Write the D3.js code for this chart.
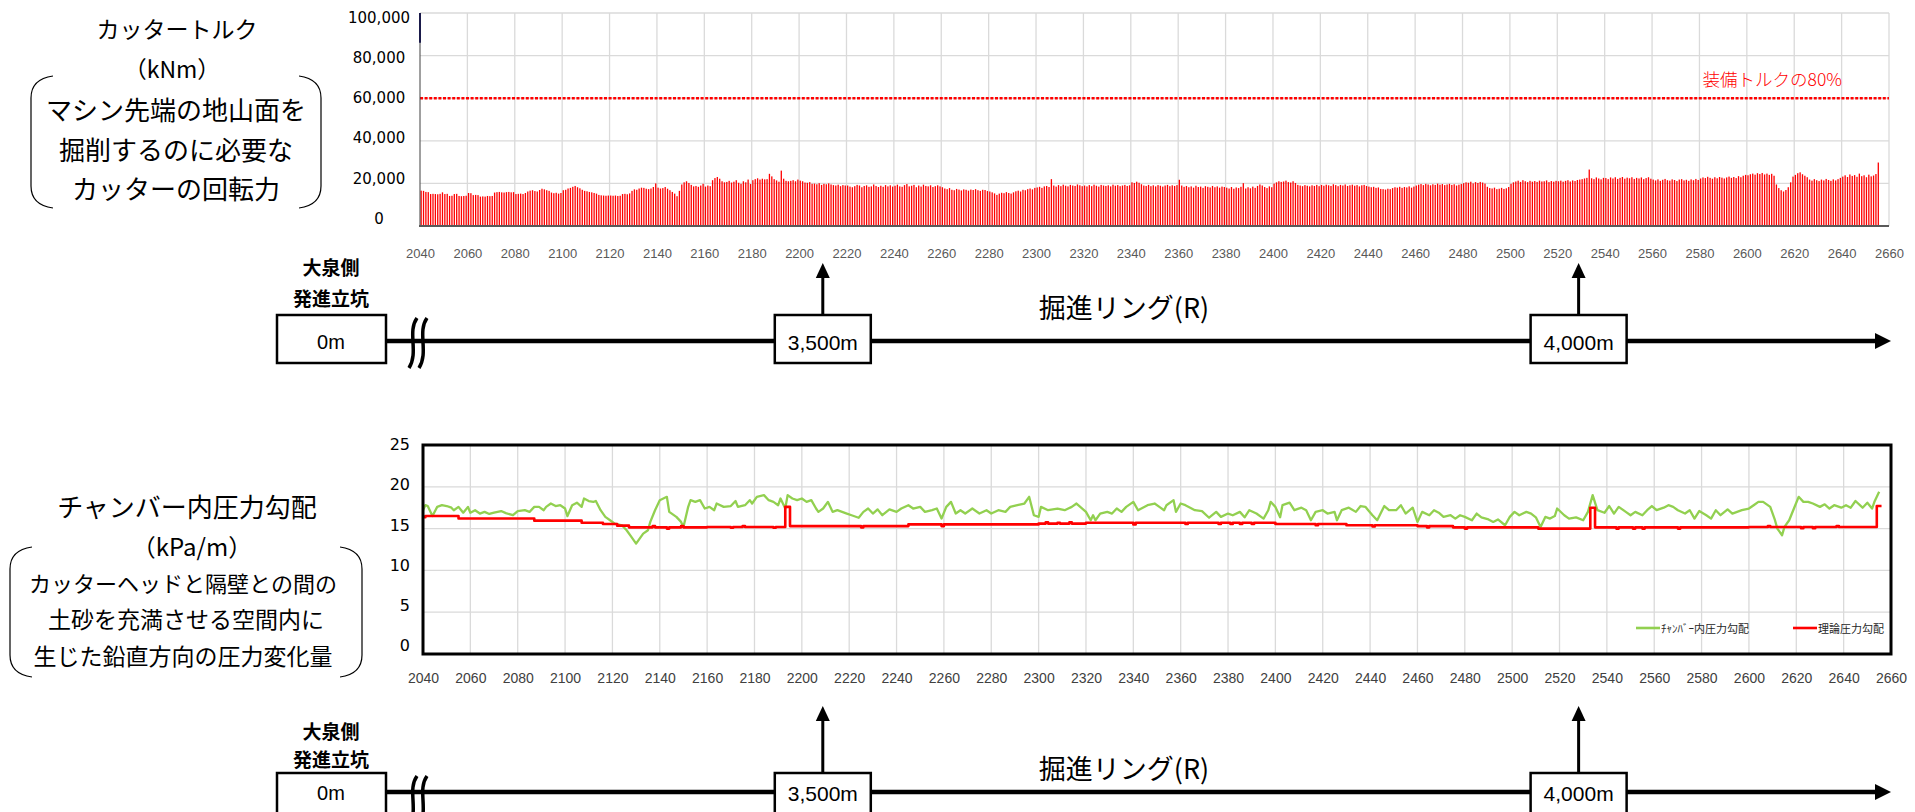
<!DOCTYPE html>
<html lang="ja">
<head>
<meta charset="utf-8">
<title>カッタートルク・チャンバー内圧力勾配</title>
<script src="https://cdn.jsdelivr.net/npm/d3@7"></script>
<style>
  html, body { margin: 0; padding: 0; background: #fff; }
  svg { display: block; }
  .jp { font-family: "Noto Sans CJK JP", "Noto Sans", sans-serif; fill: #000; }
  .num { font-family: "DejaVu Sans", Verdana, sans-serif; fill: #000; }
  .ring { font-family: "Liberation Sans Narrow", "Arial Narrow", "Liberation Sans", sans-serif; }
  .lat { font-family: "Liberation Sans", Arial, sans-serif; fill: #000; }
</style>
</head>
<body>
<svg id="chart" width="1915" height="812"></svg>
<script>
// cutter torque (kNm), one bar per ring from ring 2040
const torqueStart = 2040;
const torqueValues = [
  16600,16500,16000,15900,15000,15100,15000,14900,15100,15800,15000,15100,14100,14200,15000,15100,14100,14000,14100,14200,
  15500,15400,14500,14600,14500,13800,13900,13800,14100,14000,14100,15700,15900,16000,15800,15700,15900,16000,15800,15900,
  15000,15100,15200,15000,15500,16200,16600,16800,16400,16200,16900,17500,17200,16800,16500,15700,15400,15600,15200,15500,
  16800,17000,17600,17900,18400,18800,18200,17700,17000,16500,16300,16000,15800,15500,15200,14600,14400,14300,14200,14300,
  14300,14200,14300,14100,14200,15000,15100,14900,15300,16500,17200,17000,17600,18000,17900,17500,17300,17600,18300,20000,
  18000,17600,17800,18300,17500,16800,16000,15200,14000,16500,19500,20500,21000,20200,19300,18600,18800,18400,19000,19800,
  18500,19000,18700,21500,22500,23000,22200,21000,20500,20700,21200,20400,20800,21500,20300,19800,21000,20500,21800,19700,
  21500,22000,22400,21800,22200,21900,22000,24500,23300,22000,21400,20800,26000,22200,21200,21000,21200,21500,21000,21800,
  21300,21000,20400,20300,20600,19800,19900,19600,20100,19300,19800,19600,20000,19500,19200,19000,19400,18700,19200,19000,
  19000,18500,18200,18700,19300,19000,18200,18800,19100,18400,18600,19500,18800,18300,18900,18400,19200,18600,19100,18500,
  18900,19400,18600,18400,19200,19700,18600,18900,19300,18200,19000,18500,19400,18800,18600,19100,18300,18700,19100,18600,
  18200,17600,17300,17800,17000,16800,17400,17100,16700,17200,17000,16600,17100,16900,17300,16800,16500,17000,16900,16400,
  16200,15800,15300,14600,15200,15600,15400,15900,15500,15200,15800,16300,16600,16200,17000,16800,17300,17600,17200,17900,
  18100,18400,17900,18600,18800,18300,22000,19000,18500,19200,18700,19400,18900,18600,19300,19000,18800,19500,19100,18700,
  19000,18600,19200,18700,19400,18900,18500,19300,19000,18800,19100,18600,19400,18900,19200,18700,19000,19300,18800,19100,
  20500,20200,20800,20300,19600,19000,18800,19300,18700,19100,18600,19200,18900,18500,19000,19300,18700,19100,18800,19200,
  21700,19000,18400,18800,18200,18600,18000,18900,18300,18500,17900,18700,18400,18100,18800,18200,18600,18000,18500,18300,
  18000,17600,18300,17500,18100,17800,18400,20100,17600,18200,17700,18500,17900,18800,19500,19000,18300,17800,18600,18200,
  19900,20500,21000,20700,20900,21300,20600,20400,21000,20200,19300,19000,18700,19200,18900,18600,19100,18800,19300,18700,
  19300,18900,19400,19100,18800,19600,19200,18700,19300,19000,19500,18800,19100,19400,18900,19200,18600,19100,19300,18800,
  18500,18200,18400,17900,18100,17400,17300,17100,17500,17300,17800,18200,18000,18400,17900,18300,18100,18600,18000,18500,
  19000,19400,19700,19200,19800,19500,19100,19600,19300,19900,19400,19700,19200,19500,19800,19300,19600,19000,19400,19700,
  20100,20500,20300,20800,20000,20600,20200,20700,20400,19900,18400,17800,17600,18000,17300,17500,17900,17400,17700,18300,
  19800,20500,20900,21300,20700,21500,21000,20600,21200,20800,21100,20700,21300,20900,21000,21400,20600,21100,20800,21200,
  21000,21300,20800,21200,21500,20900,21400,21100,21600,21800,22000,22300,22600,26500,22400,22000,22800,22300,21900,22600,
  22500,22000,22800,22300,22900,22100,22600,23000,22200,22700,22400,22900,22100,22600,22300,22800,22000,22500,22900,22200,
  21800,21400,21900,21200,21700,22100,21500,21300,21900,21600,21100,21800,22000,21400,21700,21200,21900,21500,22100,21600,
  22300,22800,22500,23100,22600,22200,22900,22400,23000,22700,22300,22800,23200,22600,23000,22500,23400,22900,23600,24000,
  23800,24300,24600,24100,24800,24400,24900,24200,24600,24000,24500,23600,19500,17800,16800,16200,16900,18200,20500,23200,
  24000,24800,25200,24300,23600,22900,21800,21300,22000,21500,21100,21800,21400,22100,21600,21200,21900,21400,22000,22600,
  23200,23800,23000,24200,23500,23900,23100,24600,23400,23800,22900,24100,23300,23700,24400,29800
];
const torqueTicks = [0, 20000, 40000, 60000, 80000, 100000];
const torqueLimit = 60000;
const torqueLimitLabel = "装備トルクの80%";

const ringTicks = [2040, 2060, 2080, 2100, 2120, 2140, 2160, 2180, 2200, 2220, 2240, 2260, 2280, 2300, 2320, 2340,
  2360, 2380, 2400, 2420, 2440, 2460, 2480, 2500, 2520, 2540, 2560, 2580, 2600, 2620, 2640, 2660];

// chamber pressure gradient (kPa/m), [ring, value]
const chamberPoints = [
  [2040,17.2],[2041,17.8],[2042,17.7],[2044,16.5],[2046,17.6],[2048,17.8],[2050,17.7],[2052,17.5],[2053,17.2],[2055,17.6],
  [2057,16.9],[2059,17.6],[2060,16.9],[2062,17.2],[2064,16.8],[2066,17.0],[2068,16.75],[2070,16.9],[2073,17.1],[2075,16.85],
  [2078,16.6],[2080,17.1],[2083,17.2],[2085,17.0],[2087,17.6],[2089,17.6],[2091,17.2],[2092,17.6],[2094,18.0],[2096,17.7],
  [2098,17.8],[2100,17.4],[2101,16.5],[2103,17.8],[2105,18.1],[2107,17.6],[2108,18.6],[2110,18.3],[2112,18.2],[2113,18.3],
  [2115,17.2],[2117,16.4],[2119,16.0],[2121,15.6],[2124,15.4],[2126,14.8],[2128,14.0],[2130,13.2],[2133,14.4],[2135,14.8],
  [2136,15.8],[2138,17.2],[2140,18.4],[2143,18.8],[2144,17.0],[2147,16.4],[2149,15.8],[2150,15.2],[2152,17.6],[2153,18.4],
  [2155,18.2],[2157,18.4],[2159,17.4],[2161,17.6],[2163,17.2],[2164,18.0],[2167,17.6],[2170,17.7],[2172,18.3],[2173,17.6],
  [2176,17.8],[2178,18.4],[2179,18.0],[2181,18.8],[2184,19.0],[2186,18.4],[2188,18.2],[2190,17.8],[2191,18.6],[2193,17.4],
  [2194,19.0],[2196,18.6],[2198,18.4],[2200,18.6],[2202,18.2],[2204,18.4],[2206,17.4],[2207,17.0],[2209,17.4],[2211,18.2],
  [2213,17.0],[2215,17.2],[2217,17.0],[2219,16.8],[2221,16.6],[2224,16.3],[2226,17.0],[2228,17.4],[2230,16.8],[2232,17.3],
  [2234,16.6],[2237,17.3],[2240,17.0],[2242,17.4],[2245,17.8],[2247,17.4],[2250,17.6],[2252,17.0],[2255,17.2],[2257,17.4],
  [2259,16.2],[2261,17.6],[2263,18.2],[2265,16.8],[2267,17.2],[2269,16.8],[2272,17.4],[2275,16.8],[2278,17.2],[2280,16.8],
  [2283,17.2],[2286,17.0],[2288,17.6],[2291,17.8],[2294,18.0],[2296,18.8],[2298,16.6],[2300,16.4],[2301,17.6],[2304,17.2],
  [2308,17.4],[2311,17.2],[2314,17.6],[2316,18.0],[2320,17.0],[2322,16.0],[2323,16.6],[2324,16.0],[2326,16.8],[2329,17.0],
  [2331,16.8],[2333,17.4],[2335,17.0],[2337,17.6],[2340,18.2],[2342,17.2],[2344,17.5],[2346,17.8],[2349,18.0],[2351,17.6],
  [2353,17.2],[2354,17.8],[2357,18.4],[2358,17.0],[2360,18.0],[2362,17.8],[2366,17.2],[2369,17.1],[2372,16.3],[2375,17.0],
  [2377,16.4],[2380,16.8],[2382,16.6],[2385,17.0],[2387,16.35],[2389,17.2],[2392,16.8],[2395,16.2],[2397,17.2],[2398,18.2],
  [2400,17.6],[2402,16.35],[2403,17.8],[2406,18.1],[2408,17.2],[2411,17.5],[2413,17.2],[2415,16.0],[2417,17.0],[2420,17.2],
  [2422,16.8],[2425,17.0],[2426,16.0],[2428,17.2],[2431,17.5],[2434,17.0],[2436,17.7],[2438,17.6],[2441,16.6],[2443,16.0],
  [2446,17.7],[2448,17.2],[2451,17.2],[2453,17.8],[2455,16.8],[2458,17.5],[2460,15.8],[2462,17.0],[2465,16.6],[2467,17.2],
  [2469,16.9],[2471,16.4],[2474,16.6],[2476,16.2],[2478,16.6],[2480,16.4],[2483,16.0],[2485,16.8],[2487,16.35],[2490,16.1],
  [2492,15.8],[2494,16.1],[2497,15.4],[2499,16.4],[2501,17.0],[2503,16.6],[2506,17.0],[2508,16.8],[2510,16.35],[2512,15.2],
  [2514,16.4],[2516,16.2],[2518,16.5],[2519,17.4],[2522,16.6],[2524,16.2],[2527,16.35],[2530,16.0],[2532,17.0],[2534,19.0],
  [2536,17.2],[2539,16.9],[2541,17.7],[2543,16.8],[2545,17.6],[2548,17.0],[2550,16.6],[2552,17.0],[2555,16.6],[2557,17.2],
  [2559,17.7],[2561,17.2],[2564,17.5],[2566,17.8],[2568,17.6],[2570,17.2],[2573,16.8],[2575,17.2],[2577,16.2],[2579,17.1],
  [2582,16.6],[2584,16.2],[2586,17.2],[2588,16.6],[2591,17.3],[2593,16.8],[2595,17.0],[2597,17.2],[2600,17.4],[2602,17.8],
  [2604,18.2],[2606,18.2],[2609,17.6],[2611,16.0],[2612,15.0],[2614,14.2],[2615,15.2],[2617,16.0],[2619,17.4],[2621,18.8],
  [2623,18.2],[2625,18.2],[2627,18.0],[2630,17.6],[2632,17.9],[2634,17.4],[2636,17.8],[2639,17.5],[2641,17.8],[2643,17.5],
  [2645,18.3],[2648,17.5],[2650,18.1],[2652,17.4],[2653,18.2],[2655,19.4]
];

// theoretical pressure gradient (kPa/m), value changes [ring, value]
const theoryPoints = [
  [2040,16.35],[2041,16.5],[2055,16.2],[2087,15.95],[2107,15.7],[2116,15.55],[2122,15.35],[2127,15.15],[2137,15.3],[2138,15.15],
  [2143,15.0],[2144,15.15],[2149,15.3],[2150,15.15],[2160,15.2],[2170,15.1],[2171,15.2],[2175,15.3],[2176,15.2],[2188,15.1],
  [2189,15.2],[2193,17.6],[2195,15.3],[2225,15.15],[2226,15.3],[2245,15.5],[2259,15.3],[2260,15.5],[2300,15.6],[2303,15.75],
  [2304,15.6],[2308,15.7],[2309,15.6],[2313,15.75],[2314,15.6],[2320,15.7],[2340,15.5],[2341,15.7],[2362,15.55],[2363,15.7],
  [2376,15.55],[2377,15.7],[2381,15.55],[2382,15.7],[2385,15.55],[2386,15.7],[2390,15.55],[2391,15.7],[2400,15.55],[2417,15.4],
  [2418,15.55],[2430,15.4],[2441,15.25],[2442,15.4],[2460,15.3],[2464,15.15],[2465,15.3],[2475,15.15],[2480,15.0],[2481,15.15],
  [2511,15.0],[2533,17.5],[2535,15.15],[2544,15.0],[2545,15.15],[2551,15.0],[2552,15.15],[2555,15.0],[2556,15.15],[2570,15.0],
  [2571,15.15],[2600,15.2],[2608,15.3],[2609,15.2],[2622,15.05],[2623,15.2],[2627,15.05],[2628,15.2],[2637,15.3],[2638,15.2],
  [2654,17.7],[2656,17.7]
];
const pressureTicks = [0, 5, 10, 15, 20, 25];
const seriesNames = ["ﾁｬﾝﾊﾞｰ内圧力勾配", "理論圧力勾配"];
const seriesColors = ["#92d050", "#ff0000"];

const milestoneLabels = ["3,500m", "4,000m"];
const milestoneRings = [2210, 2529];

var svg = d3.select("#chart");

// ---------- torque bar chart ----------
var xTop = d3.scaleLinear().domain([2040, 2660]).range([420, 1889]);
var yTop = d3.scaleLinear().domain([0, 100000]).range([226, 13]);
var yTopLabel = d3.scaleLinear().domain([0, 100000]).range([218, 17]);

var torqueG = svg.append("g").attr("class", "torque");

torqueG.selectAll("line.hgrid").data(torqueTicks.slice(1))
  .enter().append("line")
    .attr("class", "hgrid")
    .attr("x1", xTop(2040)).attr("x2", xTop(2660))
    .attr("y1", function(d) { return yTop(d); })
    .attr("y2", function(d) { return yTop(d); })
    .attr("stroke", "#dadada").attr("stroke-width", 1.3);

torqueG.selectAll("line.vgrid").data(ringTicks.slice(1))
  .enter().append("line")
    .attr("class", "vgrid")
    .attr("x1", function(d) { return xTop(d); })
    .attr("x2", function(d) { return xTop(d); })
    .attr("y1", yTop(100000)).attr("y2", yTop(0))
    .attr("stroke", "#dadada").attr("stroke-width", 1.3);

torqueG.selectAll("rect.bar").data(torqueValues)
  .enter().append("rect")
    .attr("class", "bar")
    .attr("x", function(d, i) { return xTop(torqueStart + i) + 0.5; })
    .attr("width", 1.3)
    .attr("y", function(d) { return yTop(d); })
    .attr("height", function(d) { return yTop(0) - yTop(d); })
    .attr("fill", "#ff0000");

torqueG.append("line")
    .attr("x1", xTop(2040)).attr("x2", xTop(2660))
    .attr("y1", yTop(torqueLimit)).attr("y2", yTop(torqueLimit))
    .attr("stroke", "#ff0000").attr("stroke-width", 2.5)
    .attr("stroke-dasharray", "3,1.6");

torqueG.append("text")
    .attr("class", "jp")
    .attr("x", 1842).attr("y", yTop(torqueLimit) - 20)
    .attr("text-anchor", "end")
    .attr("dominant-baseline", "central")
    .style("font-size", "17.5px")
    .style("font-weight", "300")
    .style("fill", "#ff0000")
    .text(torqueLimitLabel);

// axes lines
torqueG.append("line")
    .attr("x1", xTop(2040)).attr("x2", xTop(2040))
    .attr("y1", yTop(100000)).attr("y2", yTop(0))
    .attr("stroke", "#404040").attr("stroke-width", 1);
torqueG.append("line")
    .attr("x1", xTop(2040)).attr("x2", xTop(2040))
    .attr("y1", yTop(100000)).attr("y2", yTop(86000))
    .attr("stroke", "#1a1a4a").attr("stroke-width", 2);
torqueG.append("line")
    .attr("x1", xTop(2040) - 1).attr("x2", xTop(2660))
    .attr("y1", yTop(0)).attr("y2", yTop(0))
    .attr("stroke", "#595959").attr("stroke-width", 2);

var topYAxis = torqueG.append("g")
    .attr("transform", "translate(379,0)")
    .call(d3.axisLeft(yTopLabel).tickValues(torqueTicks).tickFormat(d3.format(",")).tickSize(0));
topYAxis.select(".domain").remove();
topYAxis.selectAll("text")
    .attr("class", "num").attr("x", 0).attr("dy", "0.35em")
    .attr("text-anchor", "middle")
    .style("font-size", "15px");

var topXAxis = torqueG.append("g")
    .attr("transform", "translate(0,253)")
    .call(d3.axisBottom(xTop).tickValues(ringTicks).tickFormat(d3.format("d")).tickSize(0));
topXAxis.select(".domain").remove();
topXAxis.selectAll("text")
    .attr("class", "ring").attr("y", 0).attr("dy", "0.35em")
    .style("font-size", "13px").style("fill", "#595959");

// ---------- chamber pressure line chart ----------
var xBot = d3.scaleLinear().domain([2040, 2660]).range([423, 1891]);
var yBot = d3.scaleLinear().domain([0, 25]).range([654, 445]);
var yBotLabel = d3.scaleLinear().domain([0, 25]).range([645, 444]);

var pressG = svg.append("g").attr("class", "pressure");

pressG.selectAll("line.hgrid").data(pressureTicks.slice(1, -1))
  .enter().append("line")
    .attr("class", "hgrid")
    .attr("x1", xBot(2040)).attr("x2", xBot(2660))
    .attr("y1", function(d) { return yBot(d); })
    .attr("y2", function(d) { return yBot(d); })
    .attr("stroke", "#dadada").attr("stroke-width", 1.3);

pressG.selectAll("line.vgrid").data(ringTicks.slice(1, -1))
  .enter().append("line")
    .attr("class", "vgrid")
    .attr("x1", function(d) { return xBot(d); })
    .attr("x2", function(d) { return xBot(d); })
    .attr("y1", yBot(25)).attr("y2", yBot(0))
    .attr("stroke", "#dadada").attr("stroke-width", 1.3);

var chamberLine = d3.line()
    .x(function(d) { return xBot(d[0]); })
    .y(function(d) { return yBot(d[1]); });
var theoryLine = d3.line()
    .curve(d3.curveStepAfter)
    .x(function(d) { return xBot(d[0]); })
    .y(function(d) { return yBot(d[1]); });

pressG.append("path")
    .datum(chamberPoints)
    .attr("d", chamberLine)
    .attr("fill", "none")
    .attr("stroke", seriesColors[0])
    .attr("stroke-width", 2.3)
    .attr("stroke-linejoin", "round");

pressG.append("path")
    .datum(theoryPoints)
    .attr("d", theoryLine)
    .attr("fill", "none")
    .attr("stroke", seriesColors[1])
    .attr("stroke-width", 2.6)
    .attr("stroke-linejoin", "round");

pressG.append("rect")
    .attr("x", xBot(2040)).attr("y", yBot(25))
    .attr("width", xBot(2660) - xBot(2040))
    .attr("height", yBot(0) - yBot(25))
    .attr("fill", "none")
    .attr("stroke", "#000").attr("stroke-width", 3);

var legendX = [1636, 1793];
seriesNames.forEach(function(name, i) {
  pressG.append("line")
      .attr("x1", legendX[i]).attr("x2", legendX[i] + 24)
      .attr("y1", 628).attr("y2", 628)
      .attr("stroke", seriesColors[i]).attr("stroke-width", 2.6);
  pressG.append("text")
      .attr("class", "jp")
      .attr("x", legendX[i] + 25).attr("y", 628)
      .attr("dominant-baseline", "central")
      .style("font-size", "11px")
      .style("fill", "#262626")
      .text(name);
});

var botYAxis = pressG.append("g")
    .attr("transform", "translate(410,0)")
    .call(d3.axisLeft(yBotLabel).tickValues(pressureTicks).tickSize(0).tickPadding(0));
botYAxis.select(".domain").remove();
botYAxis.selectAll("text")
    .attr("class", "num").attr("x", 0).attr("dy", "0.35em")
    .attr("text-anchor", "end")
    .style("font-size", "16px");

var botXAxis = pressG.append("g")
    .attr("transform", "translate(0,678)")
    .call(d3.axisBottom(xBot).tickValues(ringTicks).tickFormat(d3.format("d")).tickSize(0));
botXAxis.select(".domain").remove();
botXAxis.selectAll("text")
    .attr("class", "ring").attr("y", 0).attr("dy", "0.35em")
    .style("font-size", "14px").style("fill", "#404040");

// ---------- left captions ----------
function caption(lines) {
  var g = svg.append("g");
  lines.forEach(function(l) {
    g.append("text")
        .attr("class", "jp")
        .attr("x", l[0]).attr("y", l[1])
        .attr("text-anchor", "middle")
        .attr("dominant-baseline", "central")
        .style("font-size", l[2] + "px")
        .text(l[3]);
  });
  return g;
}
function brackets(x0, x1, y0, y1) {
  var r = 22;
  svg.append("path")
      .attr("d", "M" + (x0 + r) + "," + y0 + " Q" + x0 + "," + (y0 + 3) + " " + x0 + "," + (y0 + r) +
                 " L" + x0 + "," + (y1 - r) + " Q" + x0 + "," + (y1 - 3) + " " + (x0 + r) + "," + y1)
      .attr("fill", "none").attr("stroke", "#000").attr("stroke-width", 1.2);
  svg.append("path")
      .attr("d", "M" + (x1 - r) + "," + y0 + " Q" + x1 + "," + (y0 + 3) + " " + x1 + "," + (y0 + r) +
                 " L" + x1 + "," + (y1 - r) + " Q" + x1 + "," + (y1 - 3) + " " + (x1 - r) + "," + y1)
      .attr("fill", "none").attr("stroke", "#000").attr("stroke-width", 1.2);
}

caption([
  [177, 28, 23, "カッタートルク"],
  [172, 68, 23, "（kNm）"],
  [176, 108, 26, "マシン先端の地山面を"],
  [176, 148, 26, "掘削するのに必要な"],
  [176, 187, 26, "カッターの回転力"]
]);
brackets(31, 321, 76, 208);

caption([
  [187, 505, 26, "チャンバー内圧力勾配"],
  [192, 545, 24, "（kPa/m）"],
  [183, 582, 22, "カッターヘッドと隔壁との間の"],
  [186, 618, 23, "土砂を充満させる空間内に"],
  [183, 655, 23, "生じた鉛直方向の圧力変化量"]
]);
brackets(10, 362, 547, 677);

// ---------- route diagrams ----------
function drawRoute(cfg) {
  var g = svg.append("g").attr("class", "route");
  var end = 1891;
  g.append("line")
      .attr("x1", 386).attr("y1", cfg.line)
      .attr("x2", end - 12).attr("y2", cfg.line)
      .attr("stroke", "#000").attr("stroke-width", 4.5);
  g.append("path")
      .attr("d", "M" + (end - 16) + "," + (cfg.line - 8) + "L" + end + "," + cfg.line + "L" + (end - 16) + "," + (cfg.line + 8) + "Z")
      .attr("fill", "#000");

  [411, 421].forEach(function(x) {
    var t = cfg.boxTop + 3;
    g.append("path")
        .attr("d", "M" + (x + 6) + "," + t + " C" + (x - 4) + "," + (t + 14) + " " + (x + 8) + "," + (t + 34) + " " + (x - 2) + "," + (t + 50))
        .attr("fill", "none").attr("stroke", "#000").attr("stroke-width", 3.5);
  });

  g.append("text").attr("class", "jp")
      .attr("x", 331).attr("y", cfg.label1)
      .attr("text-anchor", "middle").attr("dominant-baseline", "central")
      .style("font-size", "19px").style("font-weight", "bold")
      .text("大泉側");
  g.append("text").attr("class", "jp")
      .attr("x", 331).attr("y", cfg.label2)
      .attr("text-anchor", "middle").attr("dominant-baseline", "central")
      .style("font-size", "19px").style("font-weight", "bold")
      .text("発進立坑");

  g.append("rect")
      .attr("x", 277).attr("y", cfg.boxTop)
      .attr("width", 109).attr("height", cfg.boxH)
      .attr("fill", "#fff").attr("stroke", "#000").attr("stroke-width", 2.5);
  g.append("text").attr("class", "lat")
      .attr("x", 331).attr("y", cfg.line + 1)
      .attr("text-anchor", "middle").attr("dominant-baseline", "central")
      .style("font-size", "20px")
      .text("0m");

  milestoneRings.forEach(function(r, i) {
    var cx = xTop(r);
    g.append("line")
        .attr("x1", cx).attr("x2", cx)
        .attr("y1", cfg.boxTop).attr("y2", cfg.tip + 12)
        .attr("stroke", "#000").attr("stroke-width", 3);
    g.append("path")
        .attr("d", "M" + (cx - 7) + "," + (cfg.tip + 15) + "L" + cx + "," + cfg.tip + "L" + (cx + 7) + "," + (cfg.tip + 15) + "Z")
        .attr("fill", "#000");
    g.append("rect")
        .attr("x", cx - 48).attr("y", cfg.boxTop)
        .attr("width", 96).attr("height", cfg.boxH)
        .attr("fill", "#fff").attr("stroke", "#000").attr("stroke-width", 2.5);
    g.append("text").attr("class", "lat")
        .attr("x", cx).attr("y", cfg.line + 1)
        .attr("text-anchor", "middle").attr("dominant-baseline", "central")
        .style("font-size", "21px")
        .text(milestoneLabels[i]);
  });

  g.append("text").attr("class", "jp")
      .attr("x", 1124).attr("y", cfg.title)
      .attr("text-anchor", "middle").attr("dominant-baseline", "central")
      .style("font-size", "27px")
      .text("掘進リング(R)");
}

drawRoute({ label1: 266, label2: 297, boxTop: 315, boxH: 48, line: 341, tip: 263, title: 306 });
drawRoute({ label1: 730, label2: 758, boxTop: 773, boxH: 48, line: 792, tip: 706, title: 767 });
</script>
</body>
</html>
